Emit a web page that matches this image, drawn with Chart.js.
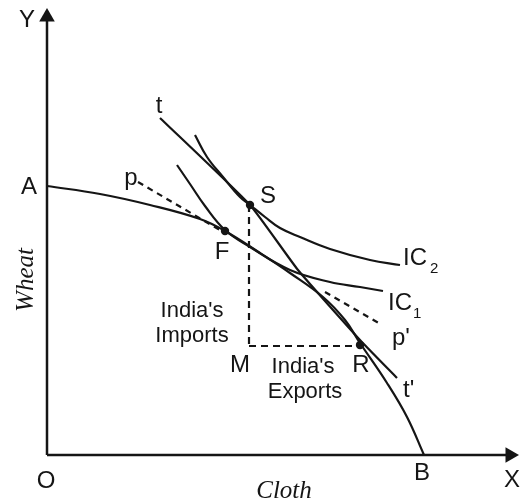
<!DOCTYPE html>
<html><head><meta charset="utf-8">
<script src="https://cdn.jsdelivr.net/npm/chart.js@4"></script>
<style>html,body{margin:0;padding:0;background:#fff}#wrap{width:520px;height:504px}</style>
</head><body><div id="wrap"><canvas id="c" width="520" height="504"></canvas></div>
<script>
// Diagram data (units: origin O at 0,0; Cloth on x, Wheat on y)
const xAxisLine = [[0,0],[46.5,0]];
const yAxisLine = [[0,0],[0,43.5]];
const arrowHeads = [[0,43.8],[46.3,0]];
const ppfAB = [[0,26.9],[5.3,26.1],[10.3,25.0],[15.3,23.6],[17.8,22.4],[21.3,20.2],[24.3,18.2],[27.6,15.8],[29.8,13.5],[31.3,11.2],[34.0,7.2],[36.0,3.8],[37.7,0]];
const ic1 = [[13.0,29.0],[14.3,27.1],[15.8,24.9],[17.8,22.5],[20.3,20.8],[24.3,18.5],[28.3,17.3],[31.3,16.8],[33.6,16.4]];
const ic2 = [[14.8,32.0],[16.0,29.8],[17.6,27.8],[19.3,25.8],[20.3,25.0],[21.8,23.8],[23.3,22.7],[25.3,21.8],[28.3,20.6],[32.3,19.5],[35.3,19.0]];
const tLine = [[11.3,33.7],[20.3,25.0],[25.1,18.5],[31.3,11.5],[35.0,7.7]];
const pLineLeft = [[9.1,27.3],[17.8,22.2]];
const pLineRight = [[27.8,16.3],[33.5,13.0]];
const importsLine = [[20.2,25.0],[20.2,11.0]];
const exportsLine = [[20.2,10.9],[31.1,10.9]];
const keyPoints = [[20.3,25.0],[17.8,22.4],[31.3,11.0]]; // S, F, R

const ink = '#151515';
const toXY = a => a.map(p => ({x:p[0], y:p[1]}));
const SANS = '"Liberation Sans", Arial, sans-serif';
const SERIF = '"Liberation Serif", "Times New Roman", serif';

const labels = [
  {t:'Y', x:-2.0, y:42.8, f:'24px '+SANS},
  {t:'A', x:-1.8, y:26.1, f:'24px '+SANS},
  {t:'p', x:8.4, y:27.0, f:'24px '+SANS},
  {t:'t', x:11.2, y:34.2, f:'24px '+SANS},
  {t:'S', x:22.1, y:25.2, f:'24px '+SANS},
  {t:'F', x:17.5, y:19.6, f:'24px '+SANS},
  {t:'IC', x:35.6, y:19.0, f:'24px '+SANS, a:'left'},
  {t:'2', x:38.3, y:18.2, f:'15px '+SANS, a:'left'},
  {t:'IC', x:34.1, y:14.5, f:'24px '+SANS, a:'left'},
  {t:'1', x:36.6, y:13.7, f:'15px '+SANS, a:'left'},
  {t:"p'", x:34.5, y:11.0, f:'24px '+SANS, a:'left'},
  {t:"t'", x:35.6, y:5.8, f:'24px '+SANS, a:'left'},
  {t:'R', x:31.4, y:8.3, f:'24px '+SANS},
  {t:'M', x:19.3, y:8.3, f:'24px '+SANS},
  {t:"India's", x:25.6, y:8.2, f:'22px '+SANS},
  {t:'Exports', x:25.8, y:5.7, f:'22px '+SANS},
  {t:"India's", x:14.5, y:13.8, f:'22px '+SANS},
  {t:'Imports', x:14.5, y:11.3, f:'22px '+SANS},
  {t:'O', x:-0.1, y:-3.3, f:'24px '+SANS},
  {t:'B', x:37.5, y:-2.5, f:'24px '+SANS},
  {t:'X', x:46.5, y:-3.2, f:'24px '+SANS},
  {t:'Cloth', x:23.7, y:-4.3, f:'italic 25px '+SERIF},
  {t:'Wheat', x:-1.4, y:17.5, f:'italic 25px '+SERIF, r:-Math.PI/2}
];

const labelPlugin = {
  id:'diagramLabels',
  beforeDraw(chart){ const c=chart.ctx; c.save(); c.fillStyle='#fff'; c.fillRect(0,0,chart.width,chart.height); c.restore(); },
  afterDatasetsDraw(chart){
    const {ctx, scales:{x, y}} = chart;
    for (const L of labels){
      ctx.save();
      ctx.font = L.f; ctx.fillStyle = ink;
      ctx.textAlign = L.a || 'center'; ctx.textBaseline = 'alphabetic';
      const px = x.getPixelForValue(L.x), py = y.getPixelForValue(L.y);
      ctx.translate(px, py);
      if (L.r) ctx.rotate(L.r);
      ctx.fillText(L.t, 0, 0);
      ctx.restore();
    }
  }
};

const line = (data, extra={}) => Object.assign({
  data: toXY(data), borderColor: ink, borderWidth: 2.2, pointRadius: 0,
  fill: false, tension: 0.4, clip: false
}, extra);

new Chart(document.getElementById('c'), {
  type: 'line',
  data: { datasets: [
    line(xAxisLine, {borderWidth:2.5, tension:0}),
    line(yAxisLine, {borderWidth:2.5, tension:0}),
    line(ppfAB),
    line(ic1),
    line(ic2),
    line(tLine, {tension:0.15}),
    line(pLineLeft, {borderDash:[6,5], tension:0}),
    line(pLineRight, {borderDash:[6,5], tension:0}),
    line(importsLine, {borderDash:[7,5], tension:0}),
    line(exportsLine, {borderDash:[7,5], tension:0}),
    line(keyPoints, {showLine:false, pointRadius:4.2, pointBackgroundColor:ink, pointBorderColor:ink, pointBorderWidth:0}),
    line(arrowHeads, {showLine:false, pointStyle:'triangle', pointRadius:9, pointRotation:[0,90], pointBackgroundColor:ink, pointBorderColor:ink, pointBorderWidth:0})
  ]},
  options: {
    responsive:false, animation:false, events:[],
    layout:{padding:0, autoPadding:false},
    scales:{
      x:{type:'linear', display:false, min:-4.7, max:47.3},
      y:{type:'linear', display:false, min:-4.9, max:45.5}
    },
    plugins:{legend:{display:false}, tooltip:{enabled:false}}
  },
  plugins:[labelPlugin]
});
</script>
</body></html>
